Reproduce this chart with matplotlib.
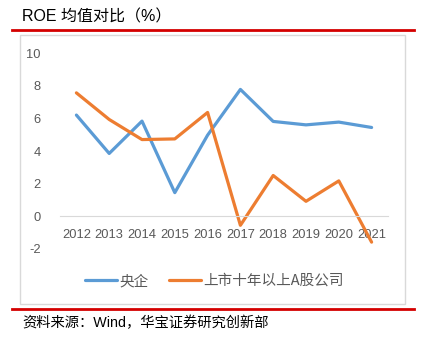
import numpy as np
import matplotlib.pyplot as plt
from matplotlib.patches import Rectangle
from matplotlib.lines import Line2D

plt.rcParams['font.family'] = ['Noto Sans CJK SC', 'DejaVu Sans']

years = ['2012', '2013', '2014', '2015', '2016', '2017', '2018', '2019', '2020', '2021']
soe = [6.2, 3.85, 5.83, 1.45, 4.97, 7.77, 5.81, 5.6, 5.77, 5.44]
listed10 = [7.56, 5.93, 4.7, 4.74, 6.36, -0.55, 2.5, 0.92, 2.17, -1.58]
yticks = [-2, 0, 2, 4, 6, 8, 10]

W, H = 429, 340
fig = plt.figure(figsize=(W / 100, H / 100), dpi=100)

def fx(px):
    return px / W

def fy(py):
    return 1 - py / H

# outer frame and red rules
fig.add_artist(Rectangle((fx(20), fy(304)), fx(405) - fx(20), fy(35) - fy(304),
                         transform=fig.transFigure, fill=False, ec='#D9D9D9', lw=1))
for yy in (30.3, 309.3):
    fig.add_artist(Line2D([fx(12), fx(414)], [fy(yy), fy(yy)], transform=fig.transFigure,
                          color='#D40000', lw=2))

mixed = ['Liberation Sans', 'Noto Sans CJK SC', 'DejaVu Sans']
fig.text(fx(22), fy(17), 'ROE 均值对比（%）', fontsize=11.5, va='center', ha='left',
         color='black', family=mixed)
fig.text(fx(22), fy(323), '资料来源：Wind，华宝证券研究创新部', fontsize=10.3, va='center',
         ha='left', color='black', family=mixed)

ax = fig.add_axes([fx(60), fy(249), fx(388) - fx(60), fy(53) - fy(249)])
x = np.arange(len(years))
ax.plot(x, soe, color='#5B9BD5', lw=2.3, label='央企', solid_capstyle='round')
ax.plot(x, listed10, color='#ED7D31', lw=2.3, label='上市十年以上A股公司', solid_capstyle='round')

ax.set_xlim(-0.5, len(years) - 0.5)
ax.set_ylim(-2, 10)
ax.set_yticks(yticks)
ax.set_yticklabels([str(v) for v in yticks])
ax.set_xticks(x)
ax.set_xticklabels(years)
for s in ('top', 'right', 'left'):
    ax.spines[s].set_visible(False)
ax.spines['bottom'].set_position(('data', 0))
ax.spines['bottom'].set_color('#D9D9D9')
ax.tick_params(axis='both', length=0, colors='#595959', labelsize=9.3)
ax.tick_params(axis='x', pad=9)
ax.tick_params(axis='y', pad=14)
for t in ax.get_xticklabels() + ax.get_yticklabels():
    t.set_family(['Liberation Sans', 'DejaVu Sans'])
ax.patch.set_alpha(0)

fig.legend(loc='center', bbox_to_anchor=(fx(214), fy(281)), ncol=2, frameon=False,
           fontsize=10.5, handlelength=2.2, columnspacing=1.4, handletextpad=0.15,
           labelcolor='#595959')

fig.savefig('out.png', dpi=100)
